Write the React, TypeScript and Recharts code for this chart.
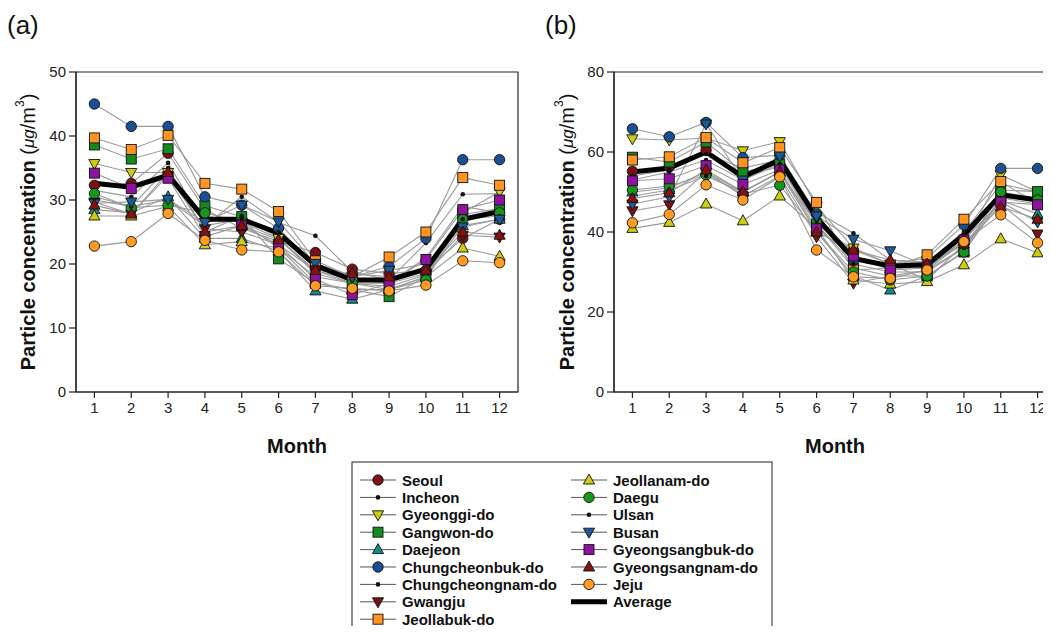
import { LineChart, Line, XAxis, YAxis, ReferenceArea } from 'recharts'

const FONT = "'Liberation Sans', Arial, sans-serif"

const months = [1, 2, 3, 4, 5, 6, 7, 8, 9, 10, 11, 12]
const ticksA = [0, 10, 20, 30, 40, 50]
const ticksB = [0, 20, 40, 60, 80]

// panel (a)
const seoulA = [32.3, 32.6, 37.3, 28.5, 25.6, 23.5, 21.8, 19.2, 18.5, 19.0, 24.0, 27.0]
const incheonA = [31.5, 30.5, 35.8, 26.0, 30.5, 26.5, 24.4, 18.8, 17.5, 23.3, 30.9, 31.0]
const gyeonggiA = [35.7, 34.3, 34.3, 27.5, 26.5, 24.0, 18.5, 17.0, 16.5, 18.3, 28.0, 31.3]
const gangwonA = [38.6, 36.4, 38.0, 29.1, 27.4, 20.8, 17.0, 16.0, 14.9, 18.0, 27.7, 28.7]
const daejeonA = [28.5, 28.0, 30.5, 24.0, 24.0, 22.0, 15.8, 14.5, 16.0, 18.0, 26.0, 27.0]
const chungbukA = [45.0, 41.5, 41.5, 30.5, 29.2, 25.6, 19.5, 18.0, 19.6, 24.0, 36.3, 36.3]
const chungnamA = [30.5, 29.0, 35.0, 25.0, 27.5, 24.0, 19.0, 17.0, 17.0, 21.0, 29.0, 28.0]
const gwangjuA = [29.7, 27.8, 33.8, 25.5, 25.0, 23.0, 19.0, 17.5, 17.0, 18.5, 24.5, 24.2]
const jeonbukA = [39.7, 37.9, 40.1, 32.6, 31.7, 28.2, 20.5, 18.0, 21.1, 25.0, 33.5, 32.3]
const jeonnamA = [27.5, 27.5, 29.0, 23.0, 23.5, 22.5, 17.0, 16.0, 16.0, 18.0, 22.5, 21.2]
const daeguA = [31.0, 28.8, 29.2, 28.0, 26.5, 22.5, 18.0, 17.0, 16.0, 17.5, 27.0, 28.0]
const ulsanA = [30.0, 29.0, 30.0, 26.0, 27.0, 25.0, 19.5, 17.5, 17.5, 19.5, 27.0, 27.5]
const busanA = [29.5, 29.7, 30.1, 26.5, 29.2, 26.6, 20.1, 18.0, 19.0, 20.0, 25.8, 27.0]
const gbukA = [34.2, 31.8, 33.4, 24.3, 26.0, 23.0, 17.6, 15.2, 17.0, 20.7, 28.5, 30.0]
const gnamA = [29.2, 27.8, 34.3, 25.0, 26.0, 23.8, 19.0, 18.5, 18.0, 19.0, 25.0, 24.5]
const jejuA = [22.8, 23.5, 27.9, 23.7, 22.2, 21.9, 16.6, 16.2, 15.8, 16.7, 20.5, 20.2]
const averageA = [32.6, 32.0, 33.9, 27.0, 27.0, 24.8, 19.8, 17.5, 17.5, 19.2, 27.0, 28.2]

// panel (b)
const seoulB = [55.2, 56.3, 60.5, 54.0, 56.3, 42.0, 35.5, 32.0, 31.0, 38.0, 49.0, 48.0]
const incheonB = [54.0, 55.5, 59.5, 56.0, 58.0, 45.0, 39.7, 33.0, 32.5, 40.0, 52.0, 50.0]
const gyeonggiB = [63.3, 63.0, 63.5, 60.3, 62.6, 46.5, 36.0, 32.0, 28.0, 37.0, 54.3, 50.0]
const gangwonB = [58.7, 57.5, 62.5, 55.0, 57.0, 42.0, 31.0, 29.0, 29.0, 35.0, 50.5, 50.1]
const daejeonB = [50.0, 51.0, 55.0, 50.0, 55.0, 40.0, 29.0, 25.5, 29.0, 35.0, 48.0, 44.5]
const chungbukB = [65.8, 63.8, 67.4, 58.6, 59.2, 44.5, 33.0, 32.0, 33.5, 41.8, 55.9, 55.9]
const chungnamB = [53.0, 55.0, 58.0, 53.0, 57.0, 43.0, 34.0, 31.0, 31.0, 38.0, 50.0, 48.5]
const gwangjuB = [45.3, 46.8, 55.0, 49.0, 54.0, 38.8, 27.2, 29.0, 30.5, 36.0, 47.0, 39.5]
const jeonbukB = [58.0, 58.8, 63.6, 57.3, 61.1, 47.4, 30.5, 31.0, 34.3, 43.2, 52.6, 47.0]
const jeonnamB = [40.9, 42.4, 47.0, 42.8, 49.0, 41.0, 28.0, 27.0, 27.6, 31.8, 38.3, 34.8]
const daeguB = [50.5, 51.5, 54.3, 49.5, 51.7, 40.0, 30.0, 28.0, 29.0, 35.0, 50.0, 48.0]
const ulsanB = [49.0, 50.5, 54.0, 50.0, 55.0, 42.0, 32.0, 30.0, 30.0, 36.0, 48.5, 47.0]
const busanB = [47.0, 48.8, 67.0, 53.0, 59.0, 44.0, 38.2, 35.3, 31.5, 37.0, 47.5, 42.5]
const gbukB = [52.8, 53.3, 56.6, 51.9, 55.5, 40.8, 34.0, 30.5, 31.0, 38.0, 47.5, 46.8]
const gnamB = [48.4, 49.8, 55.5, 50.1, 55.0, 40.0, 35.5, 33.0, 32.0, 37.0, 46.3, 43.2]
const jejuB = [42.3, 44.4, 51.8, 48.0, 53.8, 35.5, 28.8, 28.4, 30.5, 37.6, 44.3, 37.3]
const averageB = [55.0, 56.0, 60.0, 53.8, 58.0, 43.5, 33.4, 31.5, 31.8, 39.3, 49.3, 48.0]

type Shape = 'circle' | 'square' | 'up' | 'down' | 'dot'

const regions: { name: string; shape: Shape; fill: string; a: number[]; b: number[] }[] = [
  { name: 'Seoul', shape: 'circle', fill: '#7a1018', a: seoulA, b: seoulB },
  { name: 'Incheon', shape: 'dot', fill: '#111', a: incheonA, b: incheonB },
  { name: 'Gyeonggi-do', shape: 'down', fill: '#cccc10', a: gyeonggiA, b: gyeonggiB },
  { name: 'Gangwon-do', shape: 'square', fill: '#138a20', a: gangwonA, b: gangwonB },
  { name: 'Daejeon', shape: 'up', fill: '#158a8a', a: daejeonA, b: daejeonB },
  { name: 'Chungcheonbuk-do', shape: 'circle', fill: '#1c4f92', a: chungbukA, b: chungbukB },
  { name: 'Chungcheongnam-do', shape: 'dot', fill: '#111', a: chungnamA, b: chungnamB },
  { name: 'Gwangju', shape: 'down', fill: '#7a1010', a: gwangjuA, b: gwangjuB },
  { name: 'Jeollabuk-do', shape: 'square', fill: '#ff9422', a: jeonbukA, b: jeonbukB },
  { name: 'Jeollanam-do', shape: 'up', fill: '#cccc10', a: jeonnamA, b: jeonnamB },
  { name: 'Daegu', shape: 'circle', fill: '#17961e', a: daeguA, b: daeguB },
  { name: 'Ulsan', shape: 'dot', fill: '#111', a: ulsanA, b: ulsanB },
  { name: 'Busan', shape: 'down', fill: '#1c5a98', a: busanA, b: busanB },
  { name: 'Gyeongsangbuk-do', shape: 'square', fill: '#8e129e', a: gbukA, b: gbukB },
  { name: 'Gyeongsangnam-do', shape: 'up', fill: '#8a1010', a: gnamA, b: gnamB },
  { name: 'Jeju', shape: 'circle', fill: '#ff9a22', a: jejuA, b: jejuB },
]

function Marker({ cx, cy, shape, fill }: { cx?: number; cy?: number; shape: Shape; fill: string }) {
  if (cx == null || cy == null) return null
  const st = { fill, stroke: '#111', strokeWidth: 0.9 }
  if (shape === 'circle') return <circle cx={cx} cy={cy} r={5.2} {...st} />
  if (shape === 'square') return <rect x={cx - 5} y={cy - 5} width={10} height={10} {...st} />
  if (shape === 'up') return <polygon points={`${cx},${cy - 6} ${cx + 5.6},${cy + 4} ${cx - 5.6},${cy + 4}`} {...st} />
  if (shape === 'down') return <polygon points={`${cx},${cy + 6} ${cx + 5.6},${cy - 4} ${cx - 5.6},${cy - 4}`} {...st} />
  return <circle cx={cx} cy={cy} r={2.3} fill="#111" />
}

function Panel({ which, max, ticks }: { which: 'a' | 'b'; max: number; ticks: number[] }) {
  const data = months.map((m, i) => {
    const row: Record<string, number> = { month: m, Average: (which === 'a' ? averageA : averageB)[i] }
    regions.forEach(r => { row[r.name] = r[which][i] })
    return row
  })
  const tick = { fill: '#222', fontSize: 15, fontFamily: FONT }
  return (
    <LineChart width={530} height={460} data={data} margin={{ top: 72, right: 12, bottom: 38, left: 0 }}>
      <ReferenceArea x1={0.5} x2={12.5} y1={0} y2={max} fill="none" stroke="#222" strokeWidth={1.2} />
      <XAxis dataKey="month" type="number" domain={[0.5, 12.5]} ticks={months} height={30}
        tick={tick} tickSize={6} tickMargin={4} stroke="#222" strokeWidth={1.2} allowDataOverflow />
      <YAxis type="number" domain={[0, max]} ticks={ticks} width={76}
        tick={tick} tickSize={7} tickMargin={3} stroke="#222" strokeWidth={1.2} />
      {regions.map(r => (
        <Line key={'l' + r.name} dataKey={r.name} stroke="#9a9a9a" strokeWidth={1.1} dot={false} isAnimationActive={false} />
      ))}
      <Line dataKey="Average" stroke="#000" strokeWidth={5} dot={false} isAnimationActive={false} />
      {regions.map(r => (
        <Line key={'m' + r.name} dataKey={r.name} stroke="none" isAnimationActive={false}
          dot={(p: any) => <Marker key={`${r.name}-${p.index}`} cx={p.cx} cy={p.cy} shape={r.shape} fill={r.fill} />} />
      ))}
    </LineChart>
  )
}

function YLabel({ x, y }: { x: number; y: number }) {
  return (
    <text x={x} y={y} transform={`rotate(-90 ${x} ${y})`} textAnchor="middle" dominantBaseline="central"
      fontFamily={FONT} fontSize={20} fill="#111">
      <tspan fontWeight="bold">Particle concentration </tspan>
      <tspan>(</tspan>
      <tspan fontStyle="italic" fontSize={17}>μg</tspan>
      <tspan>/m</tspan>
      <tspan fontSize={12} dy={-8}>3</tspan>
      <tspan dy={8}>)</tspan>
    </text>
  )
}

const legendLeft = regions.slice(0, 9)
const legendRight = regions.slice(9)

function LegendRow({ x, y, r }: { x: number; y: number; r: (typeof regions)[number] }) {
  return (
    <g>
      <line x1={x} x2={x + 36} y1={y} y2={y} stroke="#555" strokeWidth={1} />
      <Marker cx={x + 18} cy={y} shape={r.shape} fill={r.fill} />
      <text x={x + 42} y={y} dominantBaseline="central" fontFamily={FONT} fontWeight="bold" fontSize={15} fill="#111">{r.name}</text>
    </g>
  )
}

export default function App() {
  return (
    <div style={{ position: 'relative', width: 1051, height: 634, margin: -8, overflow: 'hidden', background: '#fff' }}>
      <div style={{ position: 'absolute', left: 0, top: 0 }}>
        <Panel which="a" max={50} ticks={ticksA} />
      </div>
      <div style={{ position: 'absolute', left: 538, top: 0 }}>
        <Panel which="b" max={80} ticks={ticksB} />
      </div>
      <svg width={1051} height={634} style={{ position: 'absolute', left: 0, top: 0, pointerEvents: 'none' }}>
        <text x={7} y={34} fontFamily={FONT} fontSize={26} fill="#111">(a)</text>
        <text x={545} y={34} fontFamily={FONT} fontSize={26} fill="#111">(b)</text>
        <YLabel x={28} y={232} />
        <YLabel x={567} y={232} />
        <text x={297} y={446} textAnchor="middle" dominantBaseline="central" fontFamily={FONT} fontWeight="bold" fontSize={20} fill="#111">Month</text>
        <text x={835} y={446} textAnchor="middle" dominantBaseline="central" fontFamily={FONT} fontWeight="bold" fontSize={20} fill="#111">Month</text>
        <rect x={352} y={462} width={420} height={170} fill="#fff" stroke="#222" strokeWidth={1} />
        {legendLeft.map((r, i) => <LegendRow key={r.name} x={360} y={480 + i * 17.4} r={r} />)}
        {legendRight.map((r, i) => <LegendRow key={r.name} x={571} y={480 + i * 17.4} r={r} />)}
        <line x1={571} x2={607} y1={480 + 7 * 17.4} y2={480 + 7 * 17.4} stroke="#000" strokeWidth={5} />
        <text x={613} y={480 + 7 * 17.4} dominantBaseline="central" fontFamily={FONT} fontWeight="bold" fontSize={15} fill="#111">Average</text>
      </svg>
    </div>
  )
}
